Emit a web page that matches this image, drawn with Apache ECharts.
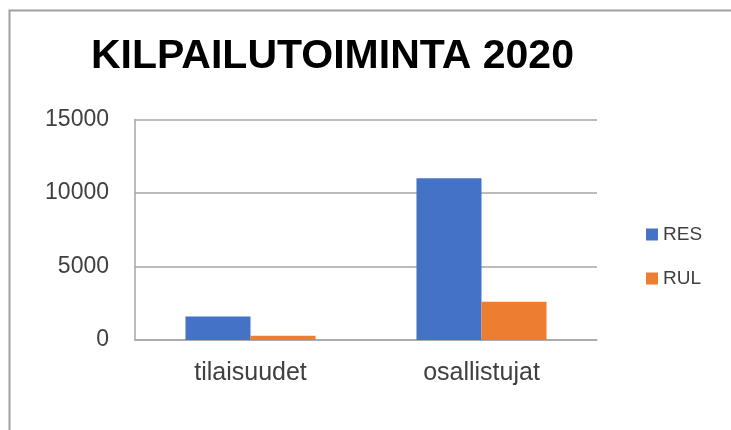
<!DOCTYPE html>
<html>
<head>
<meta charset="utf-8">
<script src="https://cdn.jsdelivr.net/npm/echarts@6/dist/echarts.min.js"></script>
<style>
  html, body { margin: 0; padding: 0; background: #fff; }
  #chart { width: 731px; height: 430px; }
</style>
</head>
<body>
<div id="chart"></div>
<script>
const categories = ["tilaisuudet", "osallistujat"];
const seriesNames = ["RES", "RUL"];
const resValues = [1600, 11000];
const rulValues = [290, 2600];
const yTicks = { min: 0, max: 15000, interval: 5000 };

const font = "'Liberation Sans', Arial, sans-serif";
const chart = echarts.init(document.getElementById("chart"));

const option = {
    backgroundColor: "#ffffff",
    animation: false,
    title: {
        text: "KILPAILUTOIMINTA 2020",
        left: 91,
        top: 36,
        padding: 0,
        textStyle: {
            fontFamily: font,
            fontSize: 41,
            fontWeight: "bold",
            color: "#000000",
        },
    },
    legend: {
        orient: "vertical",
        left: 646,
        top: 225,
        padding: 0,
        itemWidth: 12,
        itemHeight: 12,
        itemGap: 25,
        icon: "rect",
        data: seriesNames,
        textStyle: {
            fontFamily: font,
            fontSize: 19,
            color: "#404040",
        },
    },
    grid: {
        left: 135,
        right: 134,
        top: 119.5,
        bottom: 90,
    },
    xAxis: {
        type: "category",
        data: categories,
        axisTick: { show: false },
        axisLine: { lineStyle: { color: "#a6a6a6", width: 1.5 } },
        axisLabel: {
            margin: 21,
            fontFamily: font,
            fontSize: 25,
            color: "#404040",
        },
    },
    yAxis: {
        type: "value",
        min: yTicks.min,
        max: yTicks.max,
        interval: yTicks.interval,
        axisLine: { show: true, lineStyle: { color: "#a6a6a6", width: 1.5 } },
        axisTick: { show: false },
        splitLine: { lineStyle: { color: "#a6a6a6", width: 1.5 } },
        axisLabel: {
            margin: 26,
            fontFamily: font,
            fontSize: 23,
            color: "#404040",
            formatter: (v) => String(v),
        },
    },
    series: [
        {
            name: seriesNames[0],
            type: "bar",
            data: resValues,
            barGap: "0%",
            barCategoryGap: "43.7%",
            itemStyle: { color: "#4472C4" },
        },
        {
            name: seriesNames[1],
            type: "bar",
            data: rulValues,
            itemStyle: { color: "#ED7D31" },
        },
    ],
    graphic: [
        {
            type: "polyline",
            shape: { points: [[9.5, 430], [9.5, 10.5], [731, 10.5]] },
            style: { stroke: "#a0a0a0", lineWidth: 2, fill: null },
            silent: true,
        },
    ],
};

chart.setOption(option);
</script>
</body>
</html>
